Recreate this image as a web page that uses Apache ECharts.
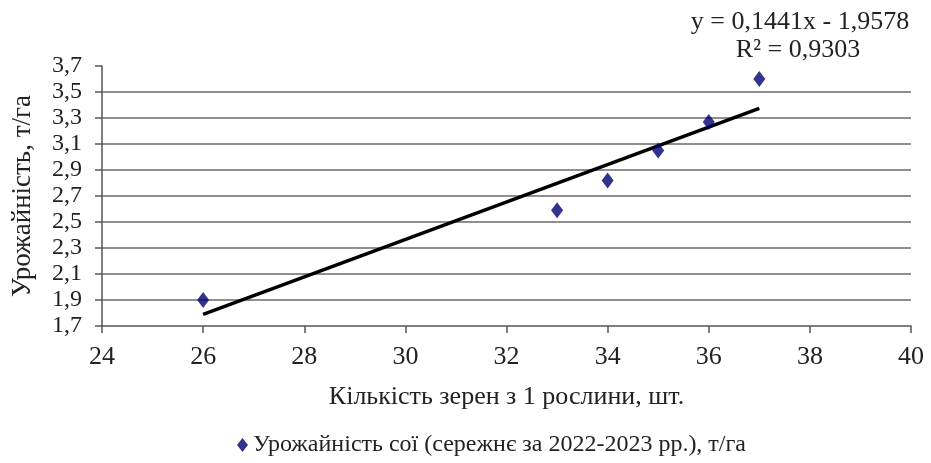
<!DOCTYPE html>
<html><head><meta charset="utf-8">
<script src="https://cdn.jsdelivr.net/npm/echarts@6/dist/echarts.min.js"></script>
<style>html,body{margin:0;padding:0;background:#fff}#c{width:931px;height:463px}</style>
</head><body><div id="c"></div>
<script>
const grainCount = [26, 33, 34, 35, 36, 37];
const yieldValues = [1.90, 2.59, 2.82, 3.05, 3.27, 3.60];
const trendSlope = 0.1441;
const trendIntercept = -1.9578;
const seriesName = 'Урожайність сої (сережнє за 2022-2023 рр.), т/га';
const xAxisTitle = 'Кількість зерен з 1 рослини, шт.';
const yAxisTitle = 'Урожайність, т/га';
const equationText = 'y = 0,1441x - 1,9578';
const r2Text = 'R² = 0,9303';

const trendX = [grainCount[0], grainCount[grainCount.length - 1]];
const trendData = trendX.map(x => [x, trendSlope * x + trendIntercept]);
const scatterData = grainCount.map((x, i) => [x, yieldValues[i]]);

const font = 'Liberation Serif';
const chart = echarts.init(document.getElementById('c'));
chart.setOption({
  animation: false,
  textStyle: { fontFamily: font },
  grid: { left: 102, right: 20, top: 66, bottom: 137 },
  xAxis: {
    type: 'value', min: 24, max: 40, interval: 2,
    name: xAxisTitle, nameLocation: 'middle', nameGap: 58,
    nameTextStyle: { fontFamily: font, fontSize: 26, color: '#222' },
    axisLine: { lineStyle: { color: '#555', width: 1.5 } },
    axisTick: { show: true, length: 7, lineStyle: { color: '#555', width: 1.5 } },
    axisLabel: { fontFamily: font, fontSize: 26, color: '#222', margin: 18 },
    splitLine: { show: false }
  },
  yAxis: {
    type: 'value', min: 1.7, max: 3.7, interval: 0.2,
    name: yAxisTitle, nameLocation: 'middle', nameGap: 66, nameRotate: 90,
    nameTextStyle: { fontFamily: font, fontSize: 27, color: '#222' },
    axisLine: { show: true, lineStyle: { color: '#555', width: 1.5 } },
    axisTick: { show: true, length: 7, lineStyle: { color: '#555', width: 1.5 } },
    axisLabel: { fontFamily: font, fontSize: 24, color: '#222', margin: 20,
      formatter: v => v.toFixed(1).replace('.', ',') },
    splitLine: { show: true, showMinLine: false, showMaxLine: false,
      lineStyle: { color: '#8f8f8f', width: 2 } }
  },
  legend: {
    top: 428, left: 232,
    data: [{ name: seriesName, icon: 'diamond' }],
    itemWidth: 11, itemHeight: 14, itemGap: 10,
    textStyle: { fontFamily: font, fontSize: 24, color: '#222' }
  },
  graphic: [
    { type: 'text', x: 800, y: 22,
      style: { text: equationText, font: '26px "Liberation Serif"', fill: '#222',
        align: 'center', verticalAlign: 'middle' } },
    { type: 'text', x: 798, y: 50,
      style: { text: r2Text, font: '26px "Liberation Serif"', fill: '#222',
        align: 'center', verticalAlign: 'middle' } }
  ],
  series: [
    { name: 'trend', type: 'line', data: trendData, symbol: 'none',
      lineStyle: { color: '#000', width: 3.5 }, z: 3, silent: true },
    { name: seriesName, type: 'scatter', data: scatterData,
      symbol: 'diamond', symbolSize: [12, 16],
      itemStyle: { color: '#000070' }, z: 4 }
  ]
});
</script></body></html>
